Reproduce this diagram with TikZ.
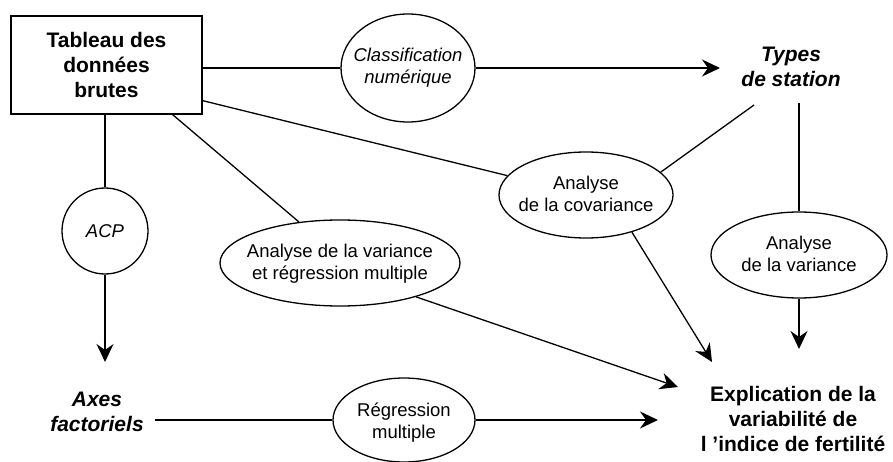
\documentclass[tikz,border=0pt]{standalone}
\usepackage{fontspec}
\setmainfont{Liberation Sans}
\usetikzlibrary{arrows.meta,shapes.geometric,calc}
\begin{document}
\begin{tikzpicture}[x=1pt,y=-1pt,line width=1.3pt,
  ov/.style={draw,ellipse,inner sep=0pt},
  big/.style={font=\fontsize{21}{25}\selectfont\bfseries,align=center,inner sep=0pt},
  bigit/.style={font=\fontsize{21}{25}\selectfont\bfseries\itshape,align=center,inner sep=0pt},
  small/.style={font=\fontsize{18.5}{22}\selectfont,align=center,inner sep=0pt},
  smallit/.style={font=\fontsize{18.5}{22}\selectfont\itshape,align=center,inner sep=0pt},
  arr/.style={-{Stealth[length=18pt,width=17pt,inset=6pt]}}]
\useasboundingbox (0,0) rectangle (893,462);
% boxes and ellipses
\node[draw,rectangle,minimum width=191pt,minimum height=98pt,inner sep=0pt] (box) at (106.5,65) {};
\node[big] (boxt) at (106.5,65) {Tableau des\\données\\brutes};
\node[ov,minimum width=134pt,minimum height=108pt] (cls) at (408,68) {};
\node[smallit] (clst) at (408,68) {Classification\\numérique};
\node[bigit] (types) at (791,67) {Types\\de station};
\node[ov,minimum width=174pt,minimum height=86pt] (cov) at (586,195) {};
\node[small] (covt) at (586,194) {Analyse\\de la covariance};
\node[ov,minimum width=176pt,minimum height=86pt] (av) at (799,255) {};
\node[small] (avt) at (799,254) {Analyse\\de la variance};
\node[draw,circle,minimum size=86pt,inner sep=0pt] (acp) at (105,231) {};
\node[smallit] (acpt) at (105,231) {ACP};
\node[ov,minimum width=240pt,minimum height=86pt] (vr) at (340,263) {};
\node[small] (vrt) at (340,264) {Analyse de la variance\\et régression multiple};
\node[bigit] (axes) at (97,412) {Axes\\factoriels};
\node[ov,minimum width=142pt,minimum height=84pt] (reg) at (404,420) {};
\node[small] (regt) at (404,423) {Régression\\multiple};
\node[big] (expl) at (793,419) {Explication de la\\variabilité de\\l ’indice de fertilité};
% connector end points
\coordinate (t0) at (720,68);
\coordinate (tyA) at (754,105);
\coordinate (tyB) at (799,103);
\coordinate (axtip) at (105,362);
\coordinate (axs) at (155,420);
\coordinate (e1) at (658,420);
\coordinate (e2) at (678,387);
\coordinate (e3) at (712,362);
\coordinate (e4) at (799,349);
% connectors
\draw (box.east |- cls) -- (cls);
\draw[arr] (cls) -- (t0);
\draw ($(box.south east)+(0,-14)$) -- (cov);
\draw ($(box.south east)+(-30,0)$) -- (vr.135);
\draw (acp |- box.south) -- (acp);
\draw[arr] (acp) -- (axtip);
\draw (tyA) -- (cov.17);
\draw (tyB) -- (av);
\draw[arr] (cov.-39) -- (e3);
\draw[arr] (vr.-24) -- (e2);
\draw[arr] (av) -- (e4);
\draw (axs) -- (reg);
\draw[arr] (reg) -- (e1);
\end{tikzpicture}
\end{document}
